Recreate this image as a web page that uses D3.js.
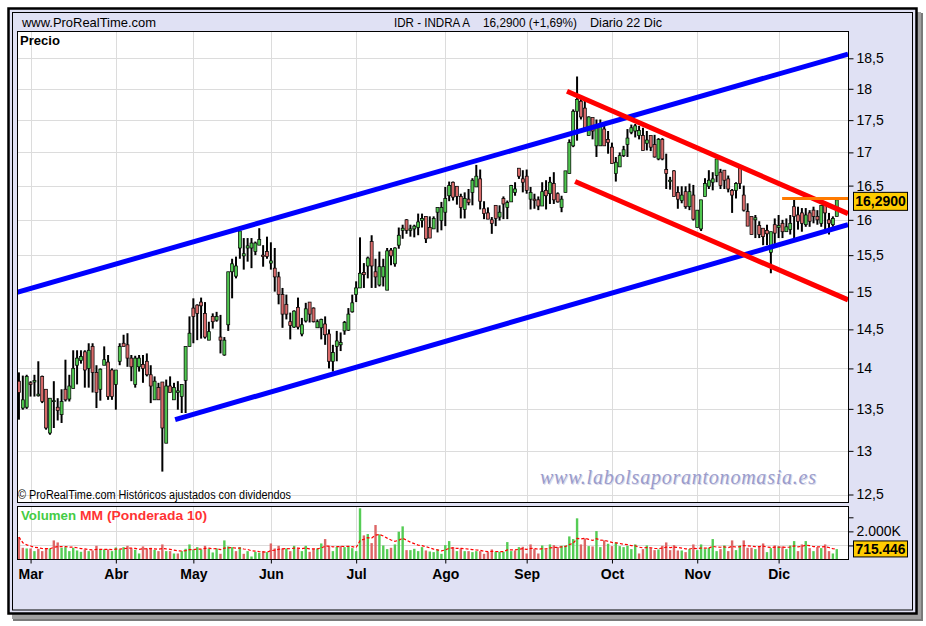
<!DOCTYPE html>
<html>
<head>
<meta charset="utf-8">
<script src="https://cdn.jsdelivr.net/npm/d3@7"></script>
<style>
body{margin:0;background:#fff;}
text{font-family:"Liberation Sans",Arial,sans-serif;}
</style>
</head>
<body>
<div id="chart"></div>
<script>
// --- data ---
var monthNames = ["Feb","Mar","Abr","May","Jun","Jul","Ago","Sep","Oct","Nov","Dic"];
var monthDays  = [3,22,20,20,22,23,21,22,22,21,16];
var priceTicks = [12.5,13,13.5,14,14.5,15,15.5,16,16.5,17,17.5,18,18.5];
var volTicks = [1000,2000,3000];
var volLabelTick = 2000;

var opens = [13.84,13.51,13.52,13.82,13.83,13.66,13.90,13.74,13.21,13.59,
13.52,13.43,13.74,13.62,13.75,14.04,14.10,14.21,14.00,14.28,
13.95,13.74,14.04,14.08,13.98,13.80,14.09,14.32,14.30,14.13,
13.80,14.02,14.05,14.09,13.92,13.61,13.76,13.83,13.09,13.78,
13.61,13.70,13.65,13.85,14.28,14.78,14.82,14.86,14.71,14.36,
14.67,14.62,14.40,14.17,14.56,15.27,15.21,15.60,15.49,15.60,
15.60,15.55,15.64,15.50,15.55,15.39,15.32,15.20,14.96,14.83,
14.60,14.53,14.79,14.44,14.61,14.86,14.78,14.52,14.52,14.57,
14.44,14.09,14.28,14.30,14.48,14.49,14.73,14.96,15.05,15.26,
15.35,15.69,15.27,15.09,15.20,15.02,15.57,15.38,15.64,15.85,
16.00,15.85,15.87,15.89,15.99,16.05,15.89,15.87,16.11,15.99,
16.11,16.35,16.55,16.49,16.34,16.15,16.30,16.40,16.48,16.60,
16.16,16.10,16.00,16.21,16.04,16.31,16.18,16.26,16.40,16.76,
16.60,16.64,16.30,16.30,16.29,16.20,16.43,16.38,16.53,16.38,
16.18,16.40,16.68,17.10,17.64,17.80,17.69,17.26,17.54,17.10,
17.10,17.36,17.20,17.08,16.68,16.78,16.95,17.12,17.31,17.33,
17.26,17.26,17.14,17.26,17.12,16.90,17.20,16.74,16.56,16.72,
16.40,16.28,16.41,16.19,16.36,15.89,15.87,16.34,16.49,16.55,
16.65,16.70,16.73,16.60,16.43,16.43,16.76,16.36,16.12,16.05,
16.00,15.92,15.88,15.85,15.54,15.93,15.89,15.95,15.83,15.86,
16.19,16.07,16.10,15.93,16.10,16.14,16.05,15.95,16.21,16.00,
15.93,16.05];

var highs = [13.95,13.91,13.92,13.84,13.92,14.09,13.91,13.74,13.63,13.84,
13.63,13.74,14.11,13.92,14.23,14.23,14.23,14.23,14.32,14.32,
14.04,14.00,14.28,14.17,14.00,13.98,14.32,14.43,14.45,14.17,
14.16,14.17,14.17,14.19,14.04,13.90,13.82,13.83,13.86,13.90,
13.82,13.84,13.80,14.28,14.67,14.91,14.83,14.92,14.86,14.60,
14.71,14.73,14.69,14.40,15.27,15.45,15.48,15.84,15.74,15.74,
15.74,15.69,15.88,15.64,15.76,15.68,15.60,15.27,15.05,14.96,
14.72,14.75,14.92,14.65,14.85,14.86,14.79,14.63,14.64,14.67,
14.50,14.30,14.48,14.46,14.61,14.78,14.96,15.14,15.75,15.39,
15.48,15.78,15.45,15.55,15.45,15.60,15.60,15.61,15.89,15.93,
16.01,15.93,15.93,16.09,16.09,16.05,16.05,16.05,16.18,16.26,
16.48,16.56,16.56,16.49,16.38,16.40,16.45,16.61,16.81,16.74,
16.27,16.18,16.04,16.21,16.21,16.34,16.28,16.51,16.55,16.76,
16.73,16.74,16.48,16.38,16.34,16.55,16.58,16.63,16.70,16.40,
16.35,16.72,17.20,17.67,18.20,17.85,17.85,17.56,17.54,17.51,
17.51,17.43,17.33,17.15,16.93,17.00,17.10,17.36,17.43,17.44,
17.41,17.38,17.33,17.26,17.27,17.22,17.22,16.98,16.63,16.73,
16.49,16.49,16.49,16.53,16.51,16.14,16.29,16.61,16.73,16.70,
16.90,16.75,16.73,16.65,16.45,16.55,16.76,16.50,16.24,16.05,
16.07,15.98,15.88,15.93,15.83,16.02,16.07,16.00,16.02,16.07,
16.31,16.19,16.17,16.17,16.14,16.19,16.14,16.21,16.24,16.10,
16.05,16.31];

var lows = [13.37,13.49,13.50,13.65,13.65,13.65,13.57,13.25,13.19,13.27,
13.36,13.33,13.59,13.59,13.75,13.80,14.06,13.76,13.76,13.70,
13.51,13.60,14.04,13.61,13.61,13.49,14.04,14.28,14.02,13.84,
13.76,13.96,13.82,13.90,13.57,13.61,13.61,12.76,13.09,13.70,
13.61,13.49,13.45,13.45,14.28,14.32,14.36,14.38,14.38,14.36,
14.51,14.60,14.19,14.16,14.48,14.91,15.18,15.45,15.30,15.41,
15.32,15.50,15.64,15.34,15.45,15.30,15.00,14.83,14.52,14.63,
14.37,14.52,14.50,14.41,14.59,14.59,14.59,14.52,14.37,14.30,
14.00,13.96,14.09,14.22,14.43,14.48,14.72,14.86,15.05,15.05,
15.18,15.05,15.05,15.07,15.07,15.02,15.36,15.34,15.59,15.73,
15.80,15.76,15.75,15.78,15.89,15.67,15.74,15.87,15.82,15.85,
15.91,16.27,16.28,16.22,16.02,16.02,16.21,16.21,16.48,16.15,
16.01,16.01,15.80,15.91,15.99,16.01,16.01,16.26,16.35,16.60,
16.40,16.38,16.15,16.16,16.14,16.20,16.15,16.23,16.23,16.25,
16.11,16.40,16.68,17.08,17.18,17.51,17.38,17.26,17.20,16.93,
17.10,17.10,16.98,16.83,16.56,16.78,16.93,16.93,17.28,17.23,
17.20,17.03,17.03,17.02,16.92,16.88,16.88,16.45,16.44,16.34,
16.16,16.24,16.16,16.14,15.99,15.89,15.84,16.34,16.45,16.43,
16.55,16.45,16.45,16.40,16.10,16.31,16.45,16.12,15.91,15.79,
15.74,15.74,15.64,15.64,15.25,15.64,15.74,15.74,15.83,15.79,
15.69,15.86,15.83,15.90,15.90,15.95,15.93,15.90,15.81,15.79,
15.90,16.05];

var closes = [13.70,13.61,13.90,13.80,13.85,13.68,13.59,13.27,13.63,13.60,
13.48,13.59,13.61,13.78,14.00,14.13,14.15,13.98,14.23,13.95,
13.70,13.99,14.11,13.65,13.65,13.98,14.28,14.28,14.13,14.02,
14.13,14.13,14.00,13.92,13.78,13.84,13.61,13.27,13.78,13.70,
13.76,13.72,13.80,14.28,14.45,14.67,14.71,14.81,14.40,14.47,
14.60,14.67,14.36,14.36,15.27,15.38,15.35,15.84,15.52,15.63,
15.67,15.67,15.72,15.48,15.48,15.42,15.20,14.96,14.70,14.70,
14.55,14.74,14.53,14.56,14.77,14.70,14.60,14.60,14.63,14.43,
14.09,14.20,14.35,14.33,14.59,14.70,14.85,15.05,15.25,15.23,
15.46,15.35,15.20,15.34,15.34,15.56,15.49,15.60,15.78,15.88,
15.85,15.87,15.91,15.97,16.02,15.73,15.74,16.02,16.18,16.18,
16.31,16.50,16.33,16.34,16.18,16.31,16.25,16.58,16.64,16.27,
16.09,16.01,15.95,16.02,16.11,16.23,16.25,16.50,16.45,16.64,
16.55,16.43,16.40,16.28,16.20,16.41,16.35,16.55,16.29,16.26,
16.30,16.72,17.15,17.64,17.83,17.55,17.38,17.55,17.33,17.38,
17.41,17.10,17.15,16.83,16.85,16.95,17.04,17.22,17.38,17.41,
17.34,17.03,17.19,17.08,16.93,17.20,16.90,16.68,16.58,16.34,
16.30,16.36,16.19,16.41,16.01,16.14,16.29,16.53,16.58,16.60,
16.90,16.50,16.58,16.45,16.36,16.53,16.53,16.14,15.91,15.79,
16.03,15.79,15.76,15.80,15.83,15.81,15.92,15.83,15.90,15.95,
16.05,15.98,15.95,16.07,15.98,16.05,16.00,16.21,16.10,15.95,
16.02,16.29];

// volume in thousands
var volumes = [1595,833,785,785,595,760,595,785,785,1357,
1214,833,880,595,833,642,547,714,595,642,
975,738,714,714,595,857,714,880,975,785,
690,428,928,785,833,690,595,1071,595,595,
428,428,595,760,1071,714,880,714,975,785,
500,785,405,1357,928,880,595,880,405,595,
214,547,476,595,524,1142,785,975,785,785,
595,975,785,595,975,547,760,785,1142,1452,
952,595,904,952,880,952,809,595,3641,1714,
1809,1166,2451,1785,1000,738,833,1071,1975,2356,
666,666,760,595,880,642,571,524,714,405,
1023,1309,880,595,785,595,595,524,595,595,
405,524,714,547,547,547,1238,595,642,880,
904,428,1071,760,428,1000,714,1071,1023,880,
975,1000,1642,1452,2927,1071,1500,952,928,2023,
880,1357,1119,952,1214,952,880,975,738,1071,
428,738,1000,833,666,714,975,1214,666,1023,
642,642,524,738,1071,666,1071,738,833,1452,
595,738,1000,595,1357,666,1000,1357,833,833,
738,952,1142,524,809,1000,928,928,738,1000,
1309,595,1071,1309,809,595,880,809,1071,595,
428,738];

// channel lines: [day index, price] endpoints
var lineStartIdx = [-0.5, 40.3, 141.4, 143.5, 196.9];
var lineStartPx  = [14.99, 13.37, 17.96, 16.56, 16.31];
var lineEndIdx   = [213.9, 213.9, 213.9, 213.9, 213.9];
var lineEndPx    = [18.57, 15.93, 16.09, 14.89, 16.31];
var lineColors   = ["#0000ff","#0000ff","#ff0000","#ff0000","#ff7a00"];
var lineWidths   = [5,5,5,5,3];

var titleParts = ["IDR - INDRA A","16,2900 (+1,69%)","Diario  22 Dic"];
var lastPriceLabel = "16,2900";
var lastMaLabel = "715.446";
var maLabelValue = 715.446;
var wmaPeriod = 10;

// --- layout ---
var W = 926, H = 626;
var left = 17, right = 848, pTop = 31, pBot = 502, vTop = 506, vBot = 559;

var svg = d3.select("#chart").append("svg")
    .attr("width", W)
    .attr("height", H);

// frame + shadow
svg.append("rect").attr("x",13).attr("y",13).attr("width",910).attr("height",608).attr("fill","#7a7a7a");
svg.append("rect").attr("x",12).attr("y",12).attr("width",909).attr("height",607).attr("fill","#a0a0a0");
svg.append("rect").attr("x",8.5).attr("y",8.5).attr("width",908).attr("height",605)
    .attr("fill","#e0e1f4").attr("stroke","#000").attr("stroke-width",2.5);
svg.append("rect").attr("x",12.5).attr("y",12.5).attr("width",900).attr("height",597.5)
    .attr("fill","none").attr("stroke","#000").attr("stroke-width",1);

var n = closes.length;
var x = d3.scaleLinear().domain([-0.5, 213.9]).range([left, right]);
var y = d3.scaleLog().domain([12.5, 18.5]).range([494.5, 58.3]);
var yv = d3.scaleLinear().domain([0, 3000]).range([559.5, 517.3]);

// month start indices
var monthStart = [];
var acc = 0;
monthDays.forEach(function(d){ monthStart.push(acc); acc += d; });
var shownMonths = monthStart.slice(1);
var shownNames = monthNames.slice(1);

// panels
svg.append("rect").attr("x",left).attr("y",pTop).attr("width",right-left).attr("height",pBot-pTop).attr("fill","#fff");
svg.append("rect").attr("x",left).attr("y",vTop).attr("width",right-left).attr("height",vBot-vTop).attr("fill","#fff");

// grid
var grid = svg.append("g").attr("stroke","#dcdcdc").attr("stroke-width",1);
grid.selectAll(".hg").data(priceTicks).enter().append("line")
    .attr("x1",left).attr("x2",right)
    .attr("y1",d=>Math.round(y(d))+0.5).attr("y2",d=>Math.round(y(d))+0.5);
grid.selectAll(".vg").data(shownMonths).enter().append("line")
    .attr("x1",d=>Math.round(x(d))+0.5).attr("x2",d=>Math.round(x(d))+0.5)
    .attr("y1",pTop).attr("y2",pBot);
grid.selectAll(".vvg").data(shownMonths).enter().append("line")
    .attr("x1",d=>Math.round(x(d))+0.5).attr("x2",d=>Math.round(x(d))+0.5)
    .attr("y1",vTop).attr("y2",vBot);
grid.selectAll(".vhg").data([1000,2000]).enter().append("line")
    .attr("x1",left).attr("x2",right)
    .attr("y1",d=>Math.round(yv(d))+0.5).attr("y2",d=>Math.round(yv(d))+0.5);

// watermark
var wm = svg.append("g");
wm.append("text").attr("x",541).attr("y",485)
    .attr("textLength",276).attr("lengthAdjust","spacing")
    .style("font-family","'Liberation Serif','DejaVu Serif',serif").style("font-style","italic")
    .style("font-size","20px").attr("fill","#d8d8ea")
    .text("www.labolsaporantonomasia.es");
wm.append("text").attr("x",540).attr("y",484)
    .attr("textLength",276).attr("lengthAdjust","spacing")
    .style("font-family","'Liberation Serif','DejaVu Serif',serif").style("font-style","italic")
    .style("font-size","20px").attr("fill","#9a9ccb")
    .text("www.labolsaporantonomasia.es");

// candles
var idx = d3.range(n);
var candles = svg.append("g");
candles.selectAll(".wick").data(idx).enter().append("line")
    .attr("x1",i=>x(i)).attr("x2",i=>x(i))
    .attr("y1",i=>y(highs[i])).attr("y2",i=>y(lows[i]))
    .attr("stroke","#000").attr("stroke-width",2);
candles.selectAll(".body").data(idx).enter().append("rect")
    .attr("x",i=>x(i)-1.5)
    .attr("width",3)
    .attr("y",i=>y(Math.max(opens[i],closes[i])))
    .attr("height",i=>Math.max(1, Math.abs(y(opens[i])-y(closes[i]))))
    .attr("fill",i=>closes[i]>=opens[i]?"#4fc64f":"#d86a6a")
    .attr("stroke","#000").attr("stroke-width",0.7);

// channel lines
svg.append("clipPath").attr("id","pclip").append("rect")
    .attr("x",left).attr("y",pTop).attr("width",right-left).attr("height",pBot-pTop);
svg.append("g").attr("clip-path","url(#pclip)")
    .selectAll("line").data(d3.range(lineStartIdx.length)).enter().append("line")
    .attr("x1",k=>x(lineStartIdx[k])).attr("y1",k=>y(lineStartPx[k]))
    .attr("x2",k=>x(lineEndIdx[k])).attr("y2",k=>y(lineEndPx[k]))
    .attr("stroke",k=>lineColors[k]).attr("stroke-width",k=>lineWidths[k]);

// volume bars
svg.append("g").selectAll("rect").data(idx).enter().append("rect")
    .attr("x",i=>x(i)-1.2).attr("width",2.4)
    .attr("y",i=>yv(volumes[i])).attr("height",i=>yv(0)-yv(volumes[i]))
    .attr("fill",i=>(i==0?closes[i]>=opens[i]:closes[i]>=closes[i-1])?"#55cc55":"#dd6666");

// weighted moving average of volume
var wma = idx.map(function(i){
    var s = 0, w = 0;
    for (var k = 0; k < wmaPeriod && i-k >= 0; k++){ s += volumes[i-k]*(wmaPeriod-k); w += wmaPeriod-k; }
    return s / w;
});
svg.append("path").datum(idx)
    .attr("d", d3.line().x(i=>x(i)).y(i=>yv(wma[i])))
    .attr("fill","none").attr("stroke","#ff0000").attr("stroke-width",1.2)
    .attr("stroke-dasharray","3,2");

// panel borders
svg.append("rect").attr("x",left+0.5).attr("y",pTop+0.5).attr("width",right-left).attr("height",pBot-pTop)
    .attr("fill","none").attr("stroke","#000");
svg.append("rect").attr("x",left+0.5).attr("y",vTop+0.5).attr("width",right-left).attr("height",vBot-vTop)
    .attr("fill","none").attr("stroke","#000");

// price axis
var pAxis = svg.append("g").attr("transform","translate("+(right+0.5)+",0)")
    .call(d3.axisRight(y).tickValues(priceTicks).tickSize(5).tickPadding(3)
        .tickFormat(d=>d3.format(".1~f")(d).replace(".",",")));
pAxis.select(".domain").remove();
pAxis.selectAll("text").style("font-size","14px").attr("fill","#000")
    .style("font-family","'Liberation Sans',Arial,sans-serif");

// volume axis
var vAxis = svg.append("g").attr("transform","translate("+(right+0.5)+",0)")
    .call(d3.axisRight(yv).tickValues(volTicks).tickSize(5).tickPadding(3)
        .tickFormat(d=>d==volLabelTick?"2.000K":""));
vAxis.select(".domain").remove();
vAxis.selectAll("text").style("font-size","14px").attr("fill","#000")
    .style("font-family","'Liberation Sans',Arial,sans-serif");

// month axis
var mAxis = svg.append("g").attr("transform","translate(0,"+(vBot+0.5)+")")
    .call(d3.axisBottom(x).tickValues(shownMonths).tickSize(4).tickPadding(6)
        .tickFormat((d,i)=>shownNames[i]));
mAxis.select(".domain").remove();
mAxis.selectAll("text").style("font-size","14px").style("font-weight","bold").attr("fill","#000")
    .style("font-family","'Liberation Sans',Arial,sans-serif");

// last value boxes
var lastY = y(closes[n-1]);
svg.append("rect").attr("x",853.5).attr("y",lastY-7.5).attr("width",54).attr("height",18)
    .attr("fill","#ffcc00").attr("stroke","#000");
svg.append("text").attr("x",880.5).attr("y",lastY+6.5).attr("text-anchor","middle")
    .style("font-size","14px").style("font-weight","bold").text(lastPriceLabel);
var maY = yv(maLabelValue);
svg.append("rect").attr("x",853.5).attr("y",maY-8.5).attr("width",54).attr("height",16)
    .attr("fill","#ffcc00").attr("stroke","#000");
svg.append("text").attr("x",880.5).attr("y",maY+5).attr("text-anchor","middle")
    .attr("textLength",50).attr("lengthAdjust","spacingAndGlyphs")
    .style("font-size","14px").style("font-weight","bold").text(lastMaLabel);

// header texts
svg.append("text").attr("x",22).attr("y",27).attr("textLength",134).attr("lengthAdjust","spacingAndGlyphs")
    .style("font-size","13px").text("www.ProRealTime.com");
var titleX = [394, 483, 590], titleLen = [76, 94, 72];
svg.selectAll(".title").data(titleParts).enter().append("text")
    .attr("x",(d,i)=>titleX[i]).attr("y",27)
    .attr("textLength",(d,i)=>titleLen[i]).attr("lengthAdjust","spacingAndGlyphs")
    .style("font-size","13px").text(d=>d);
svg.append("text").attr("x",20).attr("y",45).attr("textLength",40).attr("lengthAdjust","spacingAndGlyphs")
    .style("font-size","13px").style("font-weight","bold").text("Precio");
svg.append("text").attr("x",18).attr("y",499).attr("textLength",273).attr("lengthAdjust","spacingAndGlyphs")
    .style("font-size","12px").text("© ProRealTime.com Históricos ajustados con dividendos");
svg.append("text").attr("x",21).attr("y",520).attr("textLength",55).attr("lengthAdjust","spacingAndGlyphs")
    .style("font-size","13px").style("font-weight","bold").attr("fill","#44cc44").text("Volumen");
svg.append("text").attr("x",80).attr("y",520).attr("textLength",127).attr("lengthAdjust","spacingAndGlyphs")
    .style("font-size","13px").style("font-weight","bold").attr("fill","#ff3333").text("MM (Ponderada 10)");
</script>
</body>
</html>
